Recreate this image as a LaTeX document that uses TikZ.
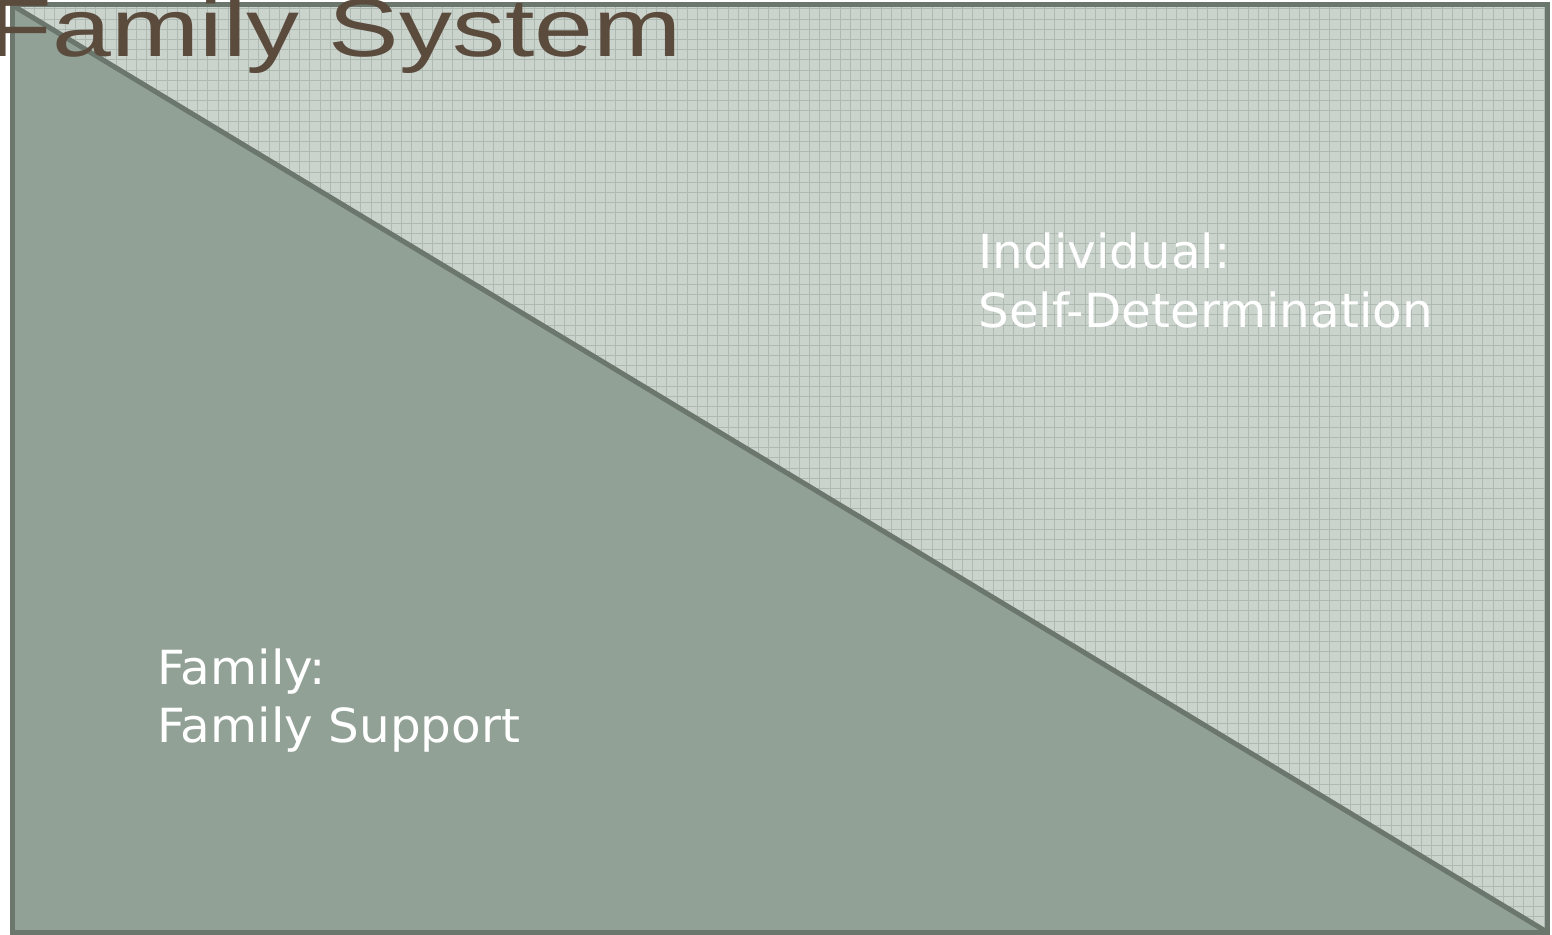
\documentclass[tikz,border=0pt]{standalone}
\usepackage{fontspec}
\setmainfont{DejaVu Sans}
\newfontfamily\titlefont{Liberation Sans}
\definecolor{edgecol}{HTML}{6B776C}
\definecolor{lowfill}{HTML}{92A196}
\definecolor{highfill}{HTML}{CBD3CD}
\definecolor{gridcol}{HTML}{AEB9B1}
\definecolor{titlecol}{HTML}{5A4B3D}
\tikzset{
  label/.style={anchor=base west, inner sep=0pt, text=white, xscale=1.03, font=\fontsize{23.5}{29}\selectfont},
  titletext/.style={anchor=base east, inner sep=0pt, text=titlecol, xscale=1.29, font=\titlefont\fontsize{41}{47}\selectfont},
  edge/.style={draw=edgecol, line width=2.5pt}
}
\begin{document}
\begin{tikzpicture}[x=0.5pt, y=-0.5pt]
\useasboundingbox (0,0) rectangle (1552,935);
\begin{scope}
\clip (0,0) rectangle (1552,935);
\fill[white] (0,0) rectangle (1552,935);
% upper-right patterned area
\fill[highfill] (12,5) rectangle (1547,932);
\foreach \x in {14,24.2,...,1547} \draw[gridcol, line width=0.5pt] (\x,5) -- (\x,932);
\foreach \y in {9,19.2,...,932} \draw[gridcol, line width=0.5pt] (12,\y) -- (1547,\y);
% lower-left triangle
\coordinate (tl) at (12,5);
\coordinate (tr) at (1547,5);
\coordinate (br) at (1547,932);
\coordinate (bl) at (12,932);
\fill[lowfill] (tl) -- (br) -- (bl) -- cycle;
\draw[edge] (tl) -- (br);
\draw[edge] (tl) rectangle (br);
% texts
\node[label] (ind1) at (978,269) {Individual:};
\node[label] (ind2) at (978,328) {Self-Determination};
\node[label] (fam1) at (157,684) {Family:};
\node[label] (fam2) at (157,742) {Family Support};
\node[titletext] (title) at (682,57) {Family System};
\end{scope}
\end{tikzpicture}
\end{document}
